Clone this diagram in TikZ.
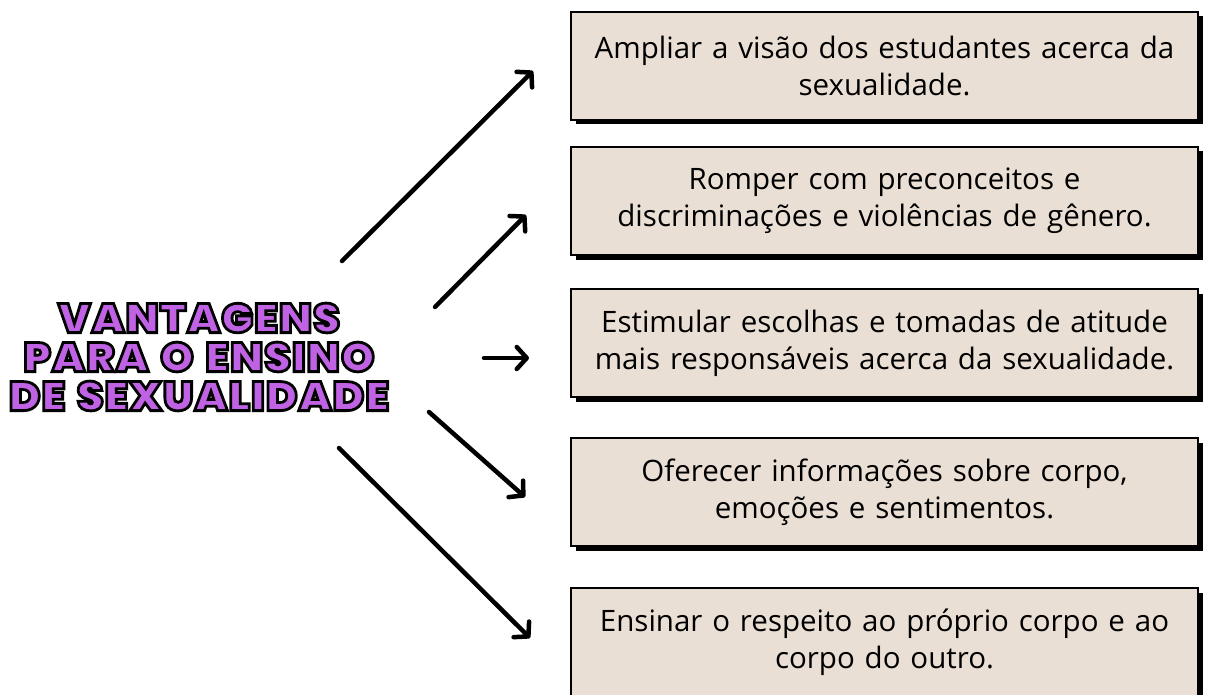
\documentclass[tikz,border=0pt]{standalone}
\usepackage{fontspec}
\setmainfont{Open Sans}
\newfontfamily\titlefont[FakeStretch=1.04,LetterSpace=2.5,WordSpace=1.4]{Poppins Black}
\usetikzlibrary{arrows.meta,shadows}
\definecolor{boxfill}{HTML}{EADFD4}
\definecolor{titlepurple}{HTML}{C062E4}
\newcommand\outlined[1]{\special{pdf:literal direct 2 Tr 2.8 w 0 0 0 RG}#1\special{pdf:literal direct 0 Tr}}
\tikzset{
  infobox/.style={draw=black, line width=1.6pt, fill=boxfill, minimum width=627pt, minimum height=108pt,
    align=center, font=\fontsize{29.5}{37}\selectfont, text width=620pt,
    drop shadow={shadow xshift=4.5pt, shadow yshift=-4.5pt, fill=black, opacity=1}},
  link/.style={line width=4.5pt, line cap=round, -{Straight Barb[length=10pt, width=22pt, line width=4.5pt, line cap=round, line join=round]}},
  titlestyle/.style={align=center, font=\titlefont\fontsize{41}{39}\selectfont, text=titlepurple}
}
\begin{document}
\begin{tikzpicture}[x=1pt,y=-1pt]
\useasboundingbox (0,0) rectangle (1207,695);
\node[titlestyle] (title) at (199,357) {\outlined{VANTAGENS}\\\outlined{PARA O ENSINO}\\\outlined{DE SEXUALIDADE}};
\node[infobox] (b1) at (884.5,66) {Ampliar a visão dos estudantes acerca da\\sexualidade.};
\node[infobox] (b2) at (884.5,201) {Romper com preconceitos e\\discriminações e violências de gênero.};
\node[infobox] (b3) at (884.5,343) {Estimular escolhas e tomadas de atitude\\mais responsáveis acerca da sexualidade.};
\node[infobox] (b4) at (884.5,492) {Oferecer informações sobre corpo,\\emoções e sentimentos.};
\node[infobox] (b5) at (884.5,642) {Ensinar o respeito ao próprio corpo e ao\\corpo do outro.};
\coordinate (s1) at (342,261); \coordinate (e1) at (533,71);
\coordinate (s2) at (435,307); \coordinate (e2) at (526,215);
\coordinate (s3) at (484,358); \coordinate (e3) at (529,358);
\coordinate (s4) at (429,412); \coordinate (e4) at (525,497);
\coordinate (s5) at (339,448); \coordinate (e5) at (530,638);
\draw[link] (s1) -- (e1);
\draw[link] (s2) -- (e2);
\draw[link] (s3) -- (e3);
\draw[link] (s4) -- (e4);
\draw[link] (s5) -- (e5);
\end{tikzpicture}
\end{document}
